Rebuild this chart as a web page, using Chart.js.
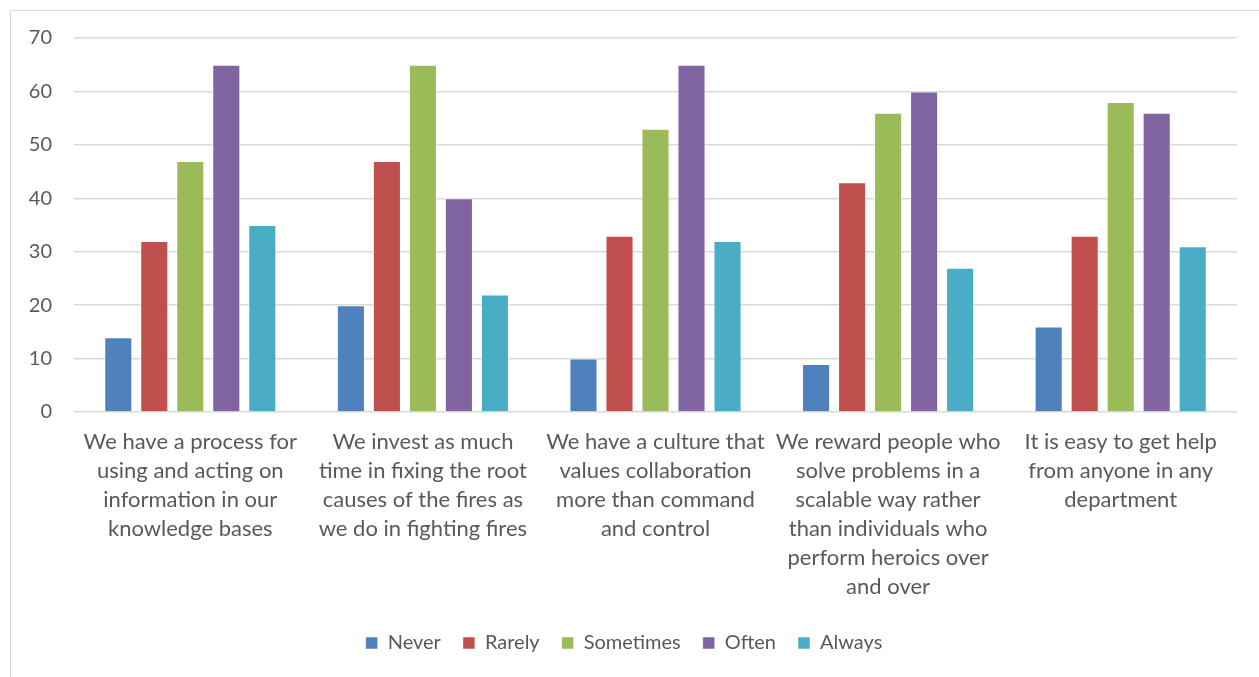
<!DOCTYPE html>
<html>
<head>
<meta charset="utf-8">
<script src="https://cdn.jsdelivr.net/npm/chart.js@4/dist/chart.umd.min.js"></script>
<style>
  html, body { margin: 0; padding: 0; background: #fff; overflow: hidden; }
  #frame {
    position: absolute; left: 10px; top: 10px;
    width: 1260px; height: 680px;
    border-left: 1px solid #d9d9d9; border-top: 1px solid #d9d9d9;
  }
  #box {
    position: absolute; left: 11px; top: 4px;
    width: 1248px; height: 673px;
  }
</style>
</head>
<body>
<div id="frame"></div>
<div id="box"><canvas id="myChart"></canvas></div>
<script>
const categories = [
  ["We have a process for", "using and acting on", "information in our", "knowledge bases"],
  ["We invest as much", "time in fixing the root", "causes of the fires as", "we do in fighting fires"],
  ["We have a culture that", "values collaboration", "more than command", "and control"],
  ["We reward people who", "solve problems in a", "scalable way rather", "than individuals who", "perform heroics over", "and over"],
  ["It is easy to get help", "from anyone in any", "department"]
];
const never = [14, 20, 10, 9, 16];
const rarely = [32, 47, 33, 43, 33];
const sometimes = [47, 65, 53, 56, 58];
const often = [65, 40, 65, 60, 56];
const always = [35, 22, 32, 27, 31];
const yTicks = [0, 10, 20, 30, 40, 50, 60, 70];

const textColor = "#595959";
const font = "Lato, 'Open Sans', sans-serif";

function series(label, data, color) {
  return {
    label: label,
    data: data,
    backgroundColor: color,
    borderColor: "rgba(255,255,255,0.5)",
    borderWidth: 1,
    categoryPercentage: 0.774,
    barPercentage: 0.78,
  };
}

const ctx = document.getElementById("myChart").getContext("2d");
new Chart(ctx, {
  type: "bar",
  data: {
    labels: categories,
    datasets: [
      series("Never", never, "#4F81BD"),
      series("Rarely", rarely, "#C0504D"),
      series("Sometimes", sometimes, "#9BBB59"),
      series("Often", often, "#8064A2"),
      series("Always", always, "#4BACC6"),
    ],
  },
  options: {
    responsive: true,
    maintainAspectRatio: false,
    animation: false,
    layout: { padding: { top: 20, right: 22, bottom: 14, left: 0 } },
    plugins: {
      tooltip: { enabled: false },
      legend: {
        position: "bottom",
        labels: {
          color: textColor,
          font: { family: font, size: 20 },
          boxWidth: 12,
          boxHeight: 12,
          padding: 22,
        },
      },
    },
    scales: {
      x: {
        grid: { display: false },
        border: { display: false },
        ticks: {
          color: textColor,
          font: { family: font, size: 22, lineHeight: 1.32 },
          padding: 7,
          maxRotation: 0,
          autoSkip: false,
        },
        afterFit: (scale) => { scale.height = 199; },
      },
      y: {
        min: 0,
        max: 70,
        afterBuildTicks: (scale) => { scale.ticks = yTicks.map((v) => ({ value: v })); },
        grid: { color: "#d9d9d9", lineWidth: 1.5, drawTicks: false },
        border: { display: false },
        ticks: {
          color: textColor,
          font: { family: font, size: 20 },
          padding: 22,
        },
        afterFit: (scale) => { scale.width = 63; },
      },
    },
  },
});
</script>
</body>
</html>
